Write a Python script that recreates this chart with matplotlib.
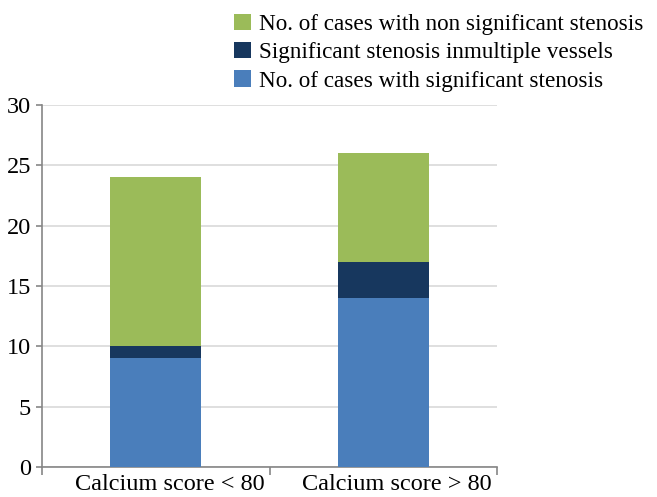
import matplotlib.pyplot as plt
import matplotlib.transforms as mtransforms
import numpy as np

plt.rcParams['font.family'] = ['Liberation Serif', 'DejaVu Serif']

categories = ['Calcium score < 80', 'Calcium score > 80']
significant = [9, 14]
multiple = [1, 3]
non_significant = [14, 9]

labels = ['No. of cases with significant stenosis',
          'Significant stenosis inmultiple vessels',
          'No. of cases with non significant stenosis']
colors = ['#4A7EBB', '#17375E', '#9BBB59']

fig = plt.figure(figsize=(6.57, 4.97), dpi=100)
ax = fig.add_axes([0.064, 0.0604, 0.6925, 0.7285])

x = np.arange(len(categories))
w = 0.4
b1 = ax.bar(x, significant, w, color=colors[0], label=labels[0], zorder=3)
b2 = ax.bar(x, multiple, w, bottom=significant, color=colors[1], label=labels[1], zorder=3)
bottom2 = np.array(significant) + np.array(multiple)
b3 = ax.bar(x, non_significant, w, bottom=bottom2, color=colors[2], label=labels[2], zorder=3)

ax.set_xlim(-0.5, 1.5)
ax.set_ylim(0, 30)
ax.set_yticks(range(0, 31, 5))
ax.yaxis.grid(True, color='#D9D9D9', linewidth=1.2, zorder=0)
ax.set_xticks(x)
ax.set_xticklabels(categories, fontsize=17.5)
ax.tick_params(axis='x', length=0, pad=5)
# labels sit slightly right of bar centres in the original
shift = mtransforms.ScaledTranslation(14 / 100, 0, fig.dpi_scale_trans)
for lab in ax.get_xticklabels():
    lab.set_transform(lab.get_transform() + shift)
ax.set_xticks([-0.5, 0.5, 1.5], minor=True)
ax.tick_params(axis='x', which='minor', length=6, color='#868686', width=1.2)
ax.tick_params(axis='y', labelsize=17.5, length=4, color='#868686', width=1.2, pad=4)
for s in ['top', 'right']:
    ax.spines[s].set_visible(False)
for s in ['left', 'bottom']:
    ax.spines[s].set_color('#868686')
    ax.spines[s].set_linewidth(1.2)

handles = [b3, b2, b1]
fig.legend(handles, [labels[2], labels[1], labels[0]], loc='upper right',
           bbox_to_anchor=(1.0, 1.0), frameon=False, fontsize=16.7,
           handlelength=0.7, handleheight=0.7, handletextpad=0.35,
           labelspacing=0.3, borderaxespad=0.2)

fig.savefig('out.png', dpi=100)
